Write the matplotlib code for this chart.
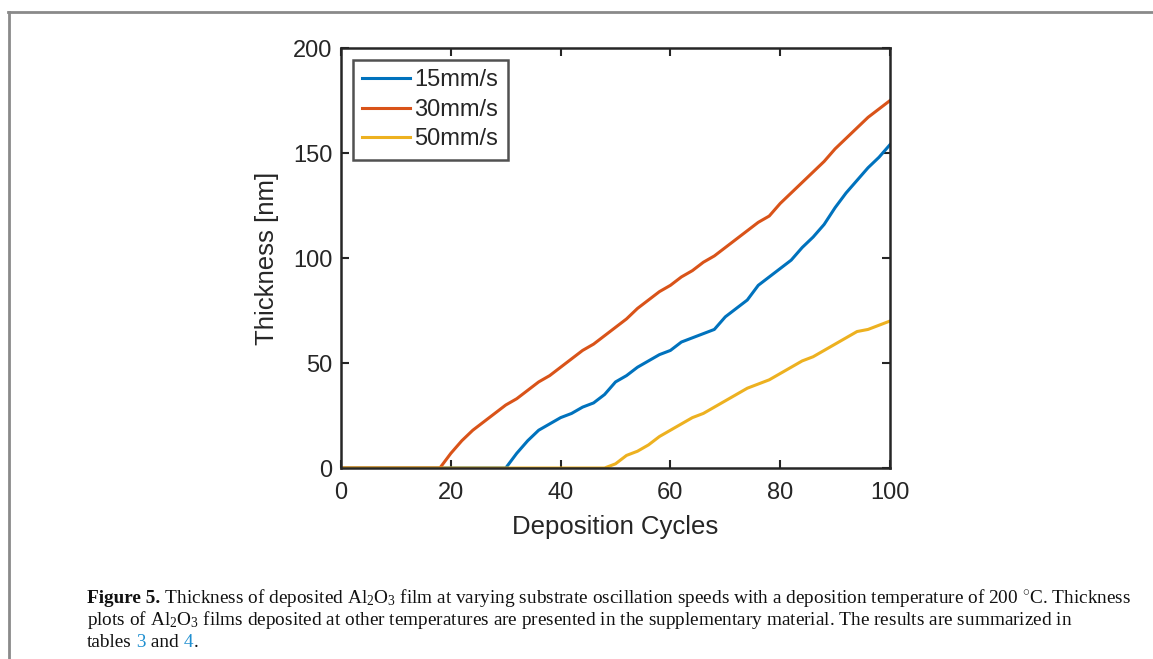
import numpy as np
import matplotlib.pyplot as plt
from matplotlib.lines import Line2D

plt.rcParams['font.family'] = ['Liberation Sans', 'DejaVu Sans']
plt.rcParams['mathtext.fontset'] = 'custom'
plt.rcParams['mathtext.rm'] = 'Liberation Serif'
plt.rcParams['mathtext.it'] = 'Liberation Serif:italic'
plt.rcParams['mathtext.bf'] = 'Liberation Serif:bold'

# deposition cycles
cycles = list(range(0, 101, 2))

# thickness [nm]
t_15 = [0]*16 + [7, 13, 18, 21, 24, 26, 29, 31, 35, 41, 44, 48, 51, 54, 56, 60,
                 62, 64, 66, 72, 76, 80, 87, 91, 95, 99, 105, 110, 116, 124,
                 131, 137, 143, 148, 154]
t_30 = [0]*10 + [7, 13, 18, 22, 26, 30, 33, 37, 41, 44, 48, 52, 56, 59, 63, 67,
                 71, 76, 80, 84, 87, 91, 94, 98, 101, 105, 109, 113, 117, 120,
                 126, 131, 136, 141, 146, 152, 157, 162, 167, 171, 175]
t_50 = [0]*25 + [2, 6, 8, 11, 15, 18, 21, 24, 26, 29, 32, 35, 38, 40, 42, 45,
                 48, 51, 53, 56, 59, 62, 65, 66, 68, 70]

labels = ['15mm/s', '30mm/s', '50mm/s']
colors = ['#0072BD', '#D95319', '#EDB120']

fig = plt.figure(figsize=(11.53, 6.59), dpi=100)
ax = fig.add_axes([0.2958, 0.2898, 0.4761, 0.6373])

for y, lab, c in zip([t_15, t_30, t_50], labels, colors):
    ax.plot(cycles, y, color=c, lw=2.2, label=lab)

ax.set_xlim(0, 100)
ax.set_ylim(0, 200)
ax.set_xticks([0, 20, 40, 60, 80, 100])
ax.set_yticks([0, 50, 100, 150, 200])
ax.tick_params(direction='in', top=True, right=True, length=6, width=1.5,
               labelsize=17, labelcolor='#262626', color='#262626')
ax.tick_params(axis='x', pad=10)
ax.tick_params(axis='y', pad=6)
for s in ax.spines.values():
    s.set_linewidth(1.8)
    s.set_color('#262626')
ax.set_xlabel('Deposition Cycles', fontsize=18.5, color='#262626', labelpad=8)
ax.set_ylabel('Thickness [nm]', fontsize=18.5, color='#262626', labelpad=10)

leg = ax.legend(loc='upper left', fontsize=17, frameon=True, fancybox=False,
                handlelength=2.0, handletextpad=0.2, borderpad=0.4,
                labelspacing=0.32, borderaxespad=0.5)
leg.get_frame().set_edgecolor('#262626')
leg.get_frame().set_linewidth(1.8)
for t in leg.get_texts():
    t.set_color('#262626')

# outer frame of the figure panel
fig.add_artist(Line2D([8.5/1153, 8.5/1153], [0, 1 - 12/659], color='#8a8a8a', lw=2))
fig.add_artist(Line2D([8/1153, 1], [1 - 12/659, 1 - 12/659], color='#8a8a8a', lw=2))

# caption, pieces placed one after another on each line
cap = dict(fontsize=13.9, family='Liberation Serif', va='baseline')
dark = '#111111'
blue = '#1f8fd0'
lines = [
    [('Figure 5.', dark, 'bold'),
     (r' Thickness of deposited Al$_\mathrm{2}$O$_\mathrm{3}$ film at varying substrate '
      r'oscillation speeds with a deposition temperature of 200 $^{\circ}$C. Thickness', dark, 'normal')],
    [(r'plots of Al$_\mathrm{2}$O$_\mathrm{3}$ films deposited at other temperatures are '
      r'presented in the supplementary material. The results are summarized in', dark, 'normal')],
    [('tables', dark, 'normal'), (' 3', blue, 'normal'), (' and', dark, 'normal'),
     (' 4', blue, 'normal'), ('.', dark, 'normal')],
]
baselines = [603, 625, 647]
fig.canvas.draw()
r = fig.canvas.get_renderer()
for parts, yb in zip(lines, baselines):
    x = 87
    for s, c, w in parts:
        t = fig.text(x / 1153, 1 - yb / 659, s, color=c, fontweight=w, **cap)
        x = t.get_window_extent(r).x1

fig.savefig('out.png', dpi=100)
